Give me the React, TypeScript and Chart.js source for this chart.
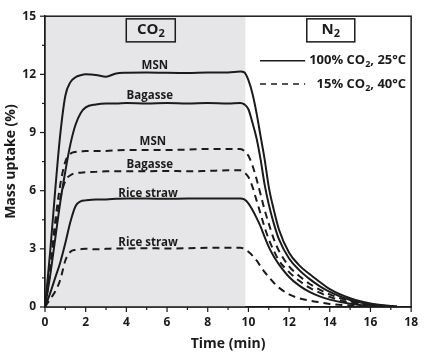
import React, { useEffect, useRef } from 'react';
import { Chart, registerables } from 'chart.js';

Chart.register(...registerables);

// ---- data ----
const times = [0, 0.25, 0.5, 0.75, 1, 1.25, 1.5, 1.75, 2, 2.5, 3, 3.5, 4, 5, 6, 7, 8, 9, 9.6, 9.8, 10, 10.2, 10.4, 10.6, 10.8, 11, 11.25, 11.5, 12, 12.5, 13, 13.5, 14, 15, 16, 17, 17.3];

const msnPure = [0, 2.8, 6.0, 8.9, 10.9, 11.6, 11.85, 11.95, 12.0, 11.97, 11.88, 12.05, 12.08, 12.1, 12.08, 12.07, 12.1, 12.1, 12.15, 12.1, 11.7, 11.0, 10.0, 8.8, 7.6, 6.2, 5.0, 4.0, 2.8, 2.15, 1.7, 1.3, 0.92, 0.45, 0.18, 0.05, 0.02];
const bagassePure = [0, 1.6, 3.5, 5.4, 7.0, 8.4, 9.4, 10.0, 10.3, 10.45, 10.5, 10.5, 10.52, 10.5, 10.52, 10.5, 10.52, 10.5, 10.52, 10.45, 10.2, 9.5, 8.7, 7.6, 6.3, 5.3, 4.3, 3.5, 2.5, 1.9, 1.45, 1.08, 0.78, 0.36, 0.14, 0.04, 0.02];
const ricePure = [0, 0.7, 1.5, 2.3, 3.3, 4.4, 5.2, 5.45, 5.5, 5.55, 5.55, 5.58, 5.6, 5.6, 5.58, 5.6, 5.6, 5.6, 5.6, 5.55, 5.35, 5.0, 4.6, 4.15, 3.6, 3.1, 2.6, 2.2, 1.55, 1.1, 0.78, 0.55, 0.38, 0.17, 0.06, 0.02, 0.01];
const msnFlue = [0, 2.0, 4.4, 6.3, 7.5, 7.9, 8.0, 8.02, 8.05, 8.05, 8.05, 8.08, 8.1, 8.1, 8.1, 8.12, 8.15, 8.15, 8.15, 8.05, 7.8, 7.3, 6.6, 5.8, 5.0, 4.3, 3.5, 2.9, 2.1, 1.6, 1.2, 0.9, 0.65, 0.3, 0.11, 0.03, 0.01];
const bagasseFlue = [0, 1.8, 3.9, 5.6, 6.5, 6.8, 6.9, 6.93, 6.95, 6.97, 7.0, 7.0, 7.0, 7.0, 7.02, 7.0, 7.02, 7.05, 7.05, 6.95, 6.7, 6.2, 5.5, 4.8, 4.1, 3.5, 2.9, 2.4, 1.8, 1.35, 1.0, 0.74, 0.52, 0.23, 0.09, 0.02, 0.01];
const riceFlue = [0, 0.4, 0.8, 1.4, 2.4, 2.85, 2.95, 2.98, 3.0, 2.98, 3.0, 3.02, 3.02, 3.03, 3.02, 3.03, 3.05, 3.05, 3.05, 3.0, 2.85, 2.65, 2.4, 2.1, 1.8, 1.55, 1.25, 1.0, 0.65, 0.45, 0.33, 0.24, 0.16, 0.08, 0.03, 0.01, 0];

const seriesNames = ['MSN', 'Bagasse', 'Rice straw', 'MSN', 'Bagasse', 'Rice straw'];
const seriesValues = [msnPure, bagassePure, ricePure, msnFlue, bagasseFlue, riceFlue];
const seriesDashed = [false, false, false, true, true, true];

const co2End = 9.85; // end of CO2 step (min)
const legendTexts = [['100% CO', '2', ', 25°C'], ['15% CO', '2', ', 40°C']];

const FONT = '"Open Sans", "DejaVu Sans", sans-serif';
const INK = '#1b1b1b';

function drawSubText(ctx: CanvasRenderingContext2D, parts: string[], x: number, y: number, size: number, align: 'left' | 'center' | 'right') {
  const big = `bold ${size}px ${FONT}`;
  const small = `bold ${Math.round(size * 0.7)}px ${FONT}`;
  ctx.font = big;
  const w0 = ctx.measureText(parts[0]).width;
  const w2 = parts[2] ? ctx.measureText(parts[2]).width : 0;
  ctx.font = small;
  const w1 = ctx.measureText(parts[1]).width;
  const total = w0 + w1 + w2;
  let sx = x;
  if (align === 'center') sx = x - total / 2;
  if (align === 'right') sx = x - total;
  ctx.textAlign = 'left';
  ctx.textBaseline = 'middle';
  ctx.font = big;
  ctx.fillText(parts[0], sx, y);
  ctx.font = small;
  ctx.fillText(parts[1], sx + w0, y + size * 0.3);
  if (parts[2]) {
    ctx.font = big;
    ctx.fillText(parts[2], sx + w0 + w1, y);
  }
}

const decor = {
  id: 'decor',
  beforeDatasetsDraw(chart: any) {
    const { ctx, chartArea, scales } = chart;
    const { left, top, bottom } = chartArea;
    ctx.save();
    ctx.fillStyle = '#e6e6e9';
    const x1 = scales.x.getPixelForValue(co2End);
    ctx.fillRect(left, top, x1 - left, bottom - top);
    ctx.restore();
  },
  afterDraw(chart: any) {
    const { ctx, chartArea, scales } = chart;
    const { left, top, right, bottom } = chartArea;
    const xs = scales.x;
    const ys = scales.y;
    ctx.save();
    ctx.strokeStyle = INK;
    ctx.lineWidth = 1.5;
    ctx.strokeRect(left, top, right - left, bottom - top);
    ctx.lineWidth = 1.2;
    ys.ticks.forEach((t: any) => {
      const py = ys.getPixelForValue(t.value);
      const major = Math.abs(t.value / 3 - Math.round(t.value / 3)) < 1e-6;
      ctx.beginPath();
      ctx.moveTo(left, py);
      ctx.lineTo(left - (major ? 5 : 3), py);
      ctx.stroke();
    });
    xs.ticks.forEach((t: any) => {
      const px = xs.getPixelForValue(t.value);
      const major = Math.round(t.value) % 2 === 0;
      ctx.beginPath();
      ctx.moveTo(px, bottom);
      ctx.lineTo(px, bottom + (major ? 5 : 3));
      ctx.stroke();
    });

    ctx.fillStyle = INK;
    ctx.font = `bold 11.5px ${FONT}`;
    ctx.textAlign = 'center';
    ctx.textBaseline = 'middle';
    const labelPos = [
      [5.4, 12.45], [5.15, 10.9], [5.07, 5.85], [5.3, 8.5], [5.15, 7.35], [5.07, 3.3],
    ];
    seriesNames.forEach((n, i) => {
      ctx.fillText(n, xs.getPixelForValue(labelPos[i][0]), ys.getPixelForValue(labelPos[i][1]));
    });

    const boxes: [string[], number][] = [[['CO', '2', ''], 5.2], [['N', '2', ''], 14.05]];
    boxes.forEach(([parts, xv], i) => {
      const cx = xs.getPixelForValue(xv);
      const cy = ys.getPixelForValue(14.27);
      const w = i === 0 ? 49 : 48;
      const h = 23;
      ctx.strokeStyle = INK;
      ctx.lineWidth = 1.5;
      ctx.strokeRect(cx - w / 2, cy - h / 2, w, h);
      ctx.fillStyle = INK;
      drawSubText(ctx, parts, cx, cy - 1, 15, 'center');
    });

    const lx0 = xs.getPixelForValue(10.57);
    const lx1 = xs.getPixelForValue(12.79);
    const ly = [ys.getPixelForValue(12.7), ys.getPixelForValue(11.5)];
    ctx.lineWidth = 1.6;
    ctx.strokeStyle = INK;
    [0, 1].forEach((k) => {
      ctx.setLineDash(k === 0 ? [] : [6, 5]);
      ctx.beginPath();
      ctx.moveTo(lx0, ly[k]);
      ctx.lineTo(lx1, ly[k]);
      ctx.stroke();
      ctx.setLineDash([]);
      drawSubText(ctx, legendTexts[k], right - 5, ly[k], 13, 'right');
    });
    ctx.restore();
  },
};

export default function App() {
  const ref = useRef<HTMLCanvasElement | null>(null);
  useEffect(() => {
    document.body.style.margin = '0';
    const canvas = ref.current;
    if (!canvas) return;
    const datasets = seriesValues.map((vals, i) => ({
      label: seriesNames[i] + (seriesDashed[i] ? ' (15% CO2, 40°C)' : ' (100% CO2, 25°C)'),
      data: times.map((t, j) => ({ x: t, y: vals[j] })),
      borderColor: INK,
      borderWidth: 2,
      borderDash: seriesDashed[i] ? [7, 5] : [],
      pointRadius: 0,
      fill: false,
      cubicInterpolationMode: 'monotone' as const,
    }));
    const chart = new Chart(canvas, {
      type: 'line',
      data: { datasets },
      options: {
        responsive: false,
        animation: false,
        devicePixelRatio: 1,
        layout: { padding: { top: 7, right: 7, left: 0, bottom: 0 } },
        plugins: { legend: { display: false }, tooltip: { enabled: false } },
        scales: {
          x: {
            type: 'linear',
            min: 0,
            max: 18,
            afterFit: (s: any) => { s.height = 49; },
            grid: { display: false, drawTicks: false },
            border: { display: true, color: INK, width: 1.5 },
            ticks: {
              stepSize: 1,
              autoSkip: false,
              maxRotation: 0,
              padding: 8,
              color: INK,
              font: { family: FONT, size: 12, weight: 'bold' },
              callback: (v: any) => (Math.round(v) % 2 === 0 ? String(v) : ''),
            },
            title: {
              display: true,
              text: 'Time (min)',
              color: INK,
              font: { family: FONT, size: 14, weight: 'bold' },
              padding: { top: 0, bottom: 4 },
            },
          },
          y: {
            type: 'linear',
            min: 0,
            max: 15,
            afterFit: (s: any) => { s.width = 45; },
            grid: { display: false, drawTicks: false },
            border: { display: true, color: INK, width: 1.5 },
            ticks: {
              stepSize: 1.5,
              autoSkip: false,
              padding: 9,
              color: INK,
              font: { family: FONT, size: 12, weight: 'bold' },
              callback: (v: any) => (Math.abs(v / 3 - Math.round(v / 3)) < 1e-6 ? String(v) : ''),
            },
            title: {
              display: true,
              text: 'Mass uptake (%)',
              color: INK,
              font: { family: FONT, size: 14, weight: 'bold' },
              padding: { top: 3, bottom: 0 },
            },
          },
        },
      },
      plugins: [decor],
    });
    return () => chart.destroy();
  }, []);
  return (
    <div style={{ position: 'absolute', left: 0, top: 0, width: 426, height: 356, background: '#fff' }}>
      <canvas ref={ref} width={426} height={356} />
    </div>
  );
}
